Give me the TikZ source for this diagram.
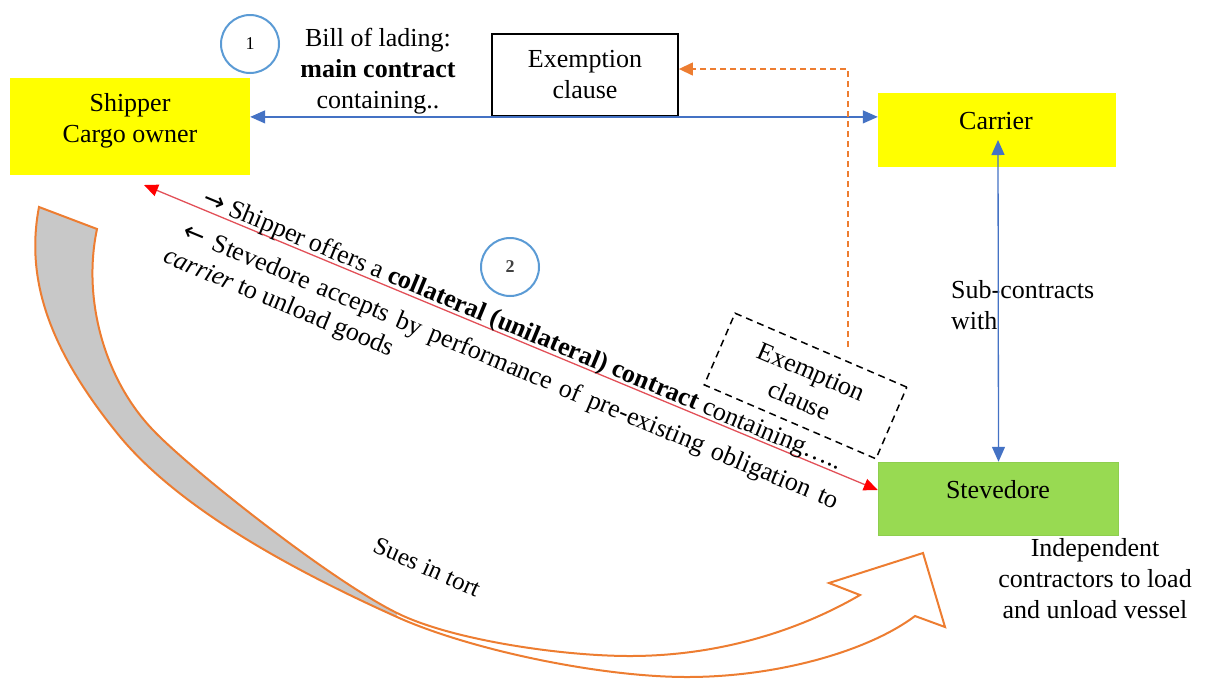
\documentclass[tikz,border=0pt]{standalone}
\usepackage{fontspec}
\setmainfont{Liberation Serif}
\newfontfamily\arrowfont{DejaVu Sans}
\usetikzlibrary{arrows.meta}
\definecolor{cyellow}{RGB}{255,255,0}
\definecolor{cgreen}{RGB}{152,218,82}
\definecolor{cgreenD}{RGB}{142,206,78}
\definecolor{cblue}{RGB}{68,114,196}
\definecolor{ccirc}{RGB}{91,155,213}
\definecolor{corange}{RGB}{237,125,49}
\definecolor{cred}{RGB}{226,80,88}
\definecolor{cgrey}{RGB}{200,200,200}
\begin{document}
\begin{tikzpicture}[x=1pt,y=-1pt,
  every node/.style={font=\fontsize{26}{31}\selectfont, inner sep=0pt},
  yellowbox/.style={fill=cyellow, draw=none},
  txt/.style={align=center},
  numcirc/.style={circle, draw=ccirc, line width=2pt, minimum size=58pt, font=\fontsize{18}{20}\selectfont},
  blueline/.style={draw=cblue, line width=1.3pt, {Triangle[length=15pt,width=13pt]}-{Triangle[length=15pt,width=13pt]}},
  redline/.style={draw=cred, line width=1.3pt, {Triangle[length=14pt,width=12pt,color=red]}-{Triangle[length=14pt,width=12pt,color=red]}},
  orangedash/.style={draw=corange, line width=1.3pt, dash pattern=on 6pt off 4pt, -{Triangle[length=14pt,width=13pt]}},
  rottext/.style={anchor=base west, rotate=-22.6},
  sues/.style={draw=corange, line width=2pt, line join=miter}
]
\useasboundingbox (0,0) rectangle (1206,678);

% curved "sues in tort" arrow: grey back side of the tail
\fill[cgrey] (39,207) .. controls (25,280) and (50,350) .. (117,433)
  .. controls (170,499) and (270,560) .. (397,617) -- (397,613)
  .. controls (330,580) and (190,469) .. (153,430)
  .. controls (105,380) and (82,300) .. (97,229) -- cycle;
% outline
\draw[sues] (39,207) .. controls (25,280) and (50,350) .. (117,433)
  .. controls (170,499) and (270,560) .. (397,617)
  .. controls (470,649.8) and (600,677) .. (687,677)
  .. controls (780,677) and (870,650) .. (915,616)
  -- (945,627) -- (923,553) -- (829,583) -- (860,595)
  .. controls (800,630) and (720,656) .. (630,656)
  .. controls (560,656) and (450,639.5) .. (397,613)
  .. controls (330,580) and (190,469) .. (153,430)
  .. controls (105,380) and (82,300) .. (97,229) -- cycle;
\node[rotate=-24, font=\fontsize{25}{28}\selectfont] (suestext) at (427,567) {Sues in tort};

% boxes
\node[yellowbox, minimum width=240pt, minimum height=97pt] (ship) at (130,126.5) {};
\node[txt] (shiptext) at (130,121) {Shipper\\Cargo owner};
\node[yellowbox, minimum width=238pt, minimum height=74pt] (carr) at (997,130) {};
\node (carrtext) at (996,121) {Carrier};
\node[fill=cgreen, draw=cgreenD, line width=1.5pt, minimum width=240pt, minimum height=73pt] (stev) at (998.5,499) {};
\node (stevtext) at (998,490) {Stevedore};
\node[txt] (indep) at (1095,579) {Independent\\contractors to load\\and unload vessel};
\node[draw=black, line width=1.8pt, minimum width=186pt, minimum height=82pt, align=center] (exbox) at (585,75) {Exemption\\clause};
\node[numcirc] (c1) at (250,44) {1};
\node[numcirc, font=\bfseries\fontsize{18}{20}\selectfont, text=darkgray] (c2) at (510,267) {2};
\node[txt] (bill) at (378,71) {Bill of lading:\\\textbf{main contract}\\containing..};
\node[align=left, anchor=west] (sub) at (951,305) {Sub-contracts\\with};
\node[draw=black, dash pattern=on 7pt off 5pt, line width=1.5pt, minimum width=187pt, minimum height=78pt, rotate=-23.3, align=center] (exrot) at (805.5,386) {Exemption\\clause};

% connectors
\draw[blueline] (ship.east |- exbox.south) -- (carr.west |- exbox.south);
\coordinate (cv) at (998,140);
\draw[blueline] (cv) -- (stev.north);
\coordinate (od) at (848,347);
\draw[orangedash] (od) |- ([yshift=6pt]exbox.east);
\coordinate (rs) at (144,185);
\draw[redline] (rs) -- ([yshift=9pt]stev.west);

% rotated texts
\node[rottext] (t1) at (200.9,204.4) {{\arrowfont →} Shipper offers a \textbf{collateral (unilateral) contract} containing…..};
\node[rottext] (t2) at (181.7,237.5) {\spaceskip=9.5pt plus 2pt\relax{\arrowfont ←} Stevedore accepts by performance of pre-existing obligation to};
\node[rottext] (t3) at (161.9,261.8) {\textit{carrier} to unload goods};
\end{tikzpicture}
\end{document}
